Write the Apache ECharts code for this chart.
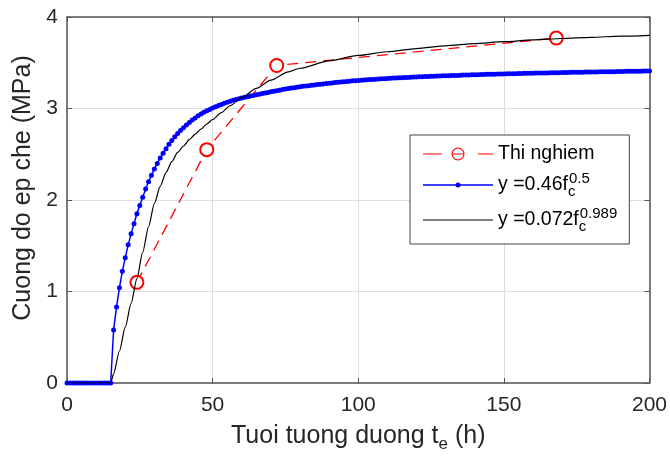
<!DOCTYPE html>
<html>
<head>
<meta charset="utf-8">
<script src="https://cdn.jsdelivr.net/npm/echarts@6/dist/echarts.min.js"></script>
<style>
html, body { margin: 0; padding: 0; background: #fff; }
#main { width: 670px; height: 458px; }
</style>
</head>
<body>
<div id="main"></div>
<script>
// du lieu doc tu hinh
var xTicks = [0, 50, 100, 150, 200];
var yTicks = [0, 1, 2, 3, 4];

// thi nghiem
var testT = [24, 48, 72, 168];
var testY = [1.1, 2.55, 3.47, 3.77];

// y = 0.46 fc^0.5, moi gio mot diem (t = 0..200)
var fitBlue = [
    0, 0, 0, 0, 0, 0, 0, 0, 0, 0, 0, 0, 0, 0, 0, 0,
    0.58, 0.83, 1.04, 1.22, 1.37, 1.51, 1.63, 1.74, 1.85, 1.94,
    2.03, 2.12, 2.20, 2.27, 2.34, 2.40, 2.46, 2.51, 2.56, 2.61,
    2.65, 2.69, 2.727, 2.76, 2.79, 2.82, 2.847, 2.873, 2.897, 2.92,
    2.94, 2.96, 2.975, 2.99, 3.005, 3.02, 3.032, 3.045, 3.057, 3.069,
    3.080, 3.090, 3.099, 3.107, 3.115, 3.122, 3.129, 3.136, 3.143, 3.150,
    3.157, 3.163, 3.170, 3.176, 3.182, 3.188, 3.194, 3.200, 3.207, 3.213,
    3.218, 3.223, 3.228, 3.233, 3.238, 3.242, 3.246, 3.250, 3.254, 3.258,
    3.262, 3.265, 3.269, 3.272, 3.276, 3.279, 3.283, 3.286, 3.290, 3.293,
    3.296, 3.299, 3.302, 3.304, 3.307, 3.309, 3.311, 3.314, 3.316, 3.318,
    3.320, 3.322, 3.324, 3.326, 3.328, 3.330, 3.332, 3.333, 3.335, 3.337,
    3.338, 3.340, 3.342, 3.343, 3.345, 3.346, 3.348, 3.349, 3.350, 3.352,
    3.353, 3.354, 3.355, 3.357, 3.358, 3.359, 3.360, 3.361, 3.362, 3.364,
    3.365, 3.366, 3.367, 3.368, 3.369, 3.370, 3.371, 3.372, 3.373, 3.374,
    3.374, 3.375, 3.376, 3.377, 3.378, 3.379, 3.380, 3.380, 3.381, 3.382,
    3.383, 3.384, 3.384, 3.385, 3.386, 3.387, 3.387, 3.388, 3.389, 3.389,
    3.390, 3.391, 3.391, 3.392, 3.393, 3.393, 3.394, 3.395, 3.395, 3.396,
    3.396, 3.397, 3.398, 3.398, 3.399, 3.399, 3.400, 3.401, 3.401, 3.402,
    3.402, 3.403, 3.403, 3.404, 3.405, 3.405, 3.406, 3.406, 3.407, 3.407,
    3.408, 3.408, 3.409, 3.409, 3.410
];

// y = 0.072 fc^0.989
var fitBlackT = [0, 15, 16, 18, 20, 22, 24, 26, 28, 30, 32, 34, 36, 38, 40, 42, 44, 46, 48, 50,
    53, 56, 60, 65, 70, 76, 80, 90, 100, 110, 120, 130, 140, 150, 160, 170, 180, 190, 200];
var fitBlackY = [0, 0, 0.10, 0.35, 0.61, 0.87, 1.14, 1.43, 1.71, 1.96, 2.15, 2.30, 2.42, 2.52, 2.59, 2.66, 2.72, 2.775, 2.83, 2.88,
    2.955, 3.03, 3.12, 3.22, 3.31, 3.40, 3.44, 3.52, 3.58, 3.62, 3.655, 3.685, 3.71, 3.73, 3.75, 3.765, 3.778, 3.79, 3.80];

var seriesNames = ['Thi nghiem', 'y =0.46fc0.5', 'y =0.072fc0.989'];
var legendLabels = {
    'Thi nghiem': 'Thi nghiem',
    'y =0.46fc0.5': 'y =0.46f{sub|c}{sup|0.5}',
    'y =0.072fc0.989': 'y =0.072f{sub|c}{sup|0.989}'
};

// bieu tuong chu giai: net dut + vong tron, net lien + cham, net lien
var iconRed = 'path://M0,6.4h19v1.2h-19z M55,6.4h15v1.2h-15z M29.8,6.4h10.4v1.2h-10.4z ' +
    'M28.5,7a6.5,6.5 0 1,1 13,0a6.5,6.5 0 1,1 -13,0z M29.6,7a5.4,5.4 0 1,0 10.8,0a5.4,5.4 0 1,0 -10.8,0z';
var iconBlue = 'path://M0,6.3h70v1.4h-70z M32.5,7a2.5,2.5 0 1,1 5,0a2.5,2.5 0 1,1 -5,0z';
var iconBlack = 'path://M0,6.4h70v1.2h-70z';

function pairs(xs, ys) {
    var out = [];
    for (var i = 0; i < ys.length; i++) {
        out.push([xs[i], ys[i]]);
    }
    return out;
}

function hourly(ys) {
    var out = [];
    for (var i = 0; i < ys.length; i++) {
        out.push([i, ys[i]]);
    }
    return out;
}

var axisColor = '#555';
var textColor = '#262626';
var font = 'Liberation Sans, Arial, Helvetica, sans-serif';

var dom = document.getElementById('main');
var myChart = echarts.init(dom, null, { renderer: 'canvas' });

var option = {
    animation: false,
    backgroundColor: '#fff',
    textStyle: { fontFamily: font },
    grid: {
        left: 67,
        right: 19,
        top: 17,
        bottom: 72,
        containLabel: false
    },
    legend: {
        orient: 'vertical',
        left: 410,
        top: 135,
        data: [
            { name: seriesNames[0], icon: iconRed, itemStyle: { color: '#ff0000', borderWidth: 0 } },
            { name: seriesNames[1], icon: iconBlue, itemStyle: { color: '#0000ff', borderWidth: 0 } },
            { name: seriesNames[2], icon: iconBlack, itemStyle: { color: '#000', borderWidth: 0 } }
        ],
        symbolKeepAspect: true,
        itemWidth: 70,
        itemHeight: 14,
        itemGap: 7,
        padding: [9, 12, 10, 13],
        backgroundColor: '#fff',
        borderColor: '#444',
        borderWidth: 1,
        borderRadius: 0,
        formatter: function (name) {
            return legendLabels[name];
        },
        textStyle: {
            fontFamily: font,
            fontSize: 19.5,
            color: '#000',
            rich: {
                sub: { fontSize: 15, padding: [13, 0, 0, 0], width: 1, fontFamily: font, color: '#000' },
                sup: { fontSize: 15, padding: [0, 0, 13, 0], fontFamily: font, color: '#000' }
            }
        }
    },
    xAxis: [
        {
            type: 'value',
            min: xTicks[0],
            max: xTicks[xTicks.length - 1],
            interval: 50,
            name: 'Tuoi tuong duong t{sub|e} (h)',
            nameLocation: 'middle',
            nameGap: 36,
            nameTextStyle: {
                fontFamily: font,
                fontSize: 25,
                color: textColor,
                rich: {
                    sub: { fontSize: 17, padding: [17, 0, 0, 0], fontFamily: font, color: textColor }
                }
            },
            axisLine: { show: true, onZero: false, lineStyle: { color: axisColor, width: 1.5 } },
            axisTick: { show: true, inside: true, length: 5, lineStyle: { color: axisColor } },
            axisLabel: { fontSize: 21, color: textColor, margin: 12, fontFamily: font },
            splitLine: { show: true, lineStyle: { color: '#dedede', width: 1 } }
        },
        {
            type: 'value',
            position: 'top',
            min: xTicks[0],
            max: xTicks[xTicks.length - 1],
            interval: 50,
            axisLine: { show: true, onZero: false, lineStyle: { color: axisColor, width: 1.5 } },
            axisTick: { show: true, inside: true, length: 5, lineStyle: { color: axisColor } },
            axisLabel: { show: false },
            splitLine: { show: false }
        }
    ],
    yAxis: [
        {
            type: 'value',
            min: yTicks[0],
            max: yTicks[yTicks.length - 1],
            interval: 1,
            name: 'Cuong do ep che (MPa)',
            nameLocation: 'middle',
            nameGap: 29,
            nameTextStyle: { fontFamily: font, fontSize: 25, color: textColor, padding: [0, 0, 0, 24] },
            axisLine: { show: true, onZero: false, lineStyle: { color: axisColor, width: 1.5 } },
            axisTick: { show: true, inside: true, length: 5, lineStyle: { color: axisColor } },
            axisLabel: { fontSize: 21, color: textColor, margin: 9, fontFamily: font },
            splitLine: { show: true, lineStyle: { color: '#dedede', width: 1 } }
        },
        {
            type: 'value',
            position: 'right',
            min: yTicks[0],
            max: yTicks[yTicks.length - 1],
            interval: 1,
            axisLine: { show: true, onZero: false, lineStyle: { color: axisColor, width: 1.5 } },
            axisTick: { show: true, inside: true, length: 5, lineStyle: { color: axisColor } },
            axisLabel: { show: false },
            splitLine: { show: false }
        }
    ],
    series: [
        {
            name: seriesNames[0],
            type: 'line',
            data: pairs(testT, testY),
            symbol: 'emptyCircle',
            symbolSize: 13,
            color: '#ff0000',
            itemStyle: { borderWidth: 1 },
            lineStyle: { color: '#ff0000', width: 1.3, type: [11, 7] },
            z: 2
        },
        {
            name: seriesNames[1],
            type: 'line',
            data: hourly(fitBlue),
            symbol: 'circle',
            symbolSize: 5,
            showAllSymbol: true,
            sampling: null,
            color: '#0000ff',
            itemStyle: { color: '#0000ff' },
            lineStyle: { color: '#0000ff', width: 1.5 },
            z: 3
        },
        {
            name: seriesNames[2],
            type: 'line',
            data: pairs(fitBlackT, fitBlackY),
            symbol: 'none',
            smooth: 0.25,
            smoothMonotone: 'x',
            color: '#000',
            lineStyle: { color: '#000', width: 1.2 },
            z: 4
        }
    ]
};

if (option && typeof option === 'object') {
    myChart.setOption(option, true);
}
</script>
</body>
</html>
